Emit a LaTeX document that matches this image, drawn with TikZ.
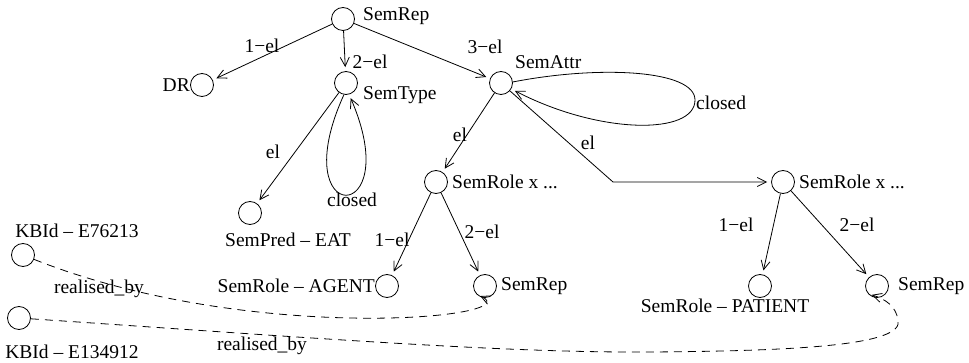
\documentclass[tikz,border=0pt]{standalone}
\usepackage{fontspec}
\setmainfont{Liberation Serif}
\usetikzlibrary{arrows.meta}
\begin{document}
\begin{tikzpicture}[x=1pt,y=-1pt,
  st/.style={circle,draw,minimum size=23pt,inner sep=0pt,line width=0.8pt},
  lbl/.style={font=\fontsize{19.5}{22}\selectfont,inner sep=0pt},
  arr/.style={line width=0.8pt,-{Straight Barb[length=9pt,width=9pt]},shorten >=4pt},
  dsh/.style={arr,dash pattern=on 8pt off 6pt}]
\useasboundingbox (0,0) rectangle (969,363);
% states
\node[st] (srep) at (343,19) {};
\node[st] (dr) at (202,85) {};
\node[st] (stype) at (346,83) {};
\node[st] (sattr) at (501,83) {};
\node[st] (spred) at (250,213) {};
\node[st] (srole) at (436,182) {};
\node[st] (srole2) at (783,182) {};
\node[st] (agent) at (387,286) {};
\node[st] (srep2) at (485,286) {};
\node[st] (patient) at (760,286) {};
\node[st] (srep3) at (877,286) {};
\node[st] (kb1) at (23,255) {};
\node[st] (kb2) at (19,318) {};
% state labels
\node[lbl,anchor=west] (tsrep) at (363,16) {SemRep};
\node[lbl,anchor=east] (tdr) at (190,85) {DR};
\node[lbl,anchor=west] (tstype) at (363,95) {SemType};
\node[lbl,anchor=west] (tsattr) at (515,62) {SemAttr};
\node[lbl] (tspred) at (288,240) {SemPred – EAT};
\node[lbl,anchor=west] (tsrole) at (452,182) {SemRole x ...};
\node[lbl,anchor=west] (tsrole2) at (799,182) {SemRole x ...};
\node[lbl,anchor=east] (tagent) at (375,286) {SemRole – AGENT};
\node[lbl,anchor=west] (tsrep2) at (501,286) {SemRep};
\node[lbl] (tpatient) at (725,306) {SemRole – PATIENT};
\node[lbl,anchor=west] (tsrep3) at (898,286) {SemRep};
\node[lbl] (tkb1) at (77,231) {KBId – E76213};
\node[lbl] (tkb2) at (72,352) {KBId – E134912};
% edge labels
\node[lbl] (e1) at (262,46) {1−el};
\node[lbl] (e2) at (370,62) {2−el};
\node[lbl] (e3) at (485,47) {3−el};
\node[lbl] (e4) at (273,152) {el};
\node[lbl] (e5) at (352,200) {closed};
\node[lbl] (e6) at (460,135) {el};
\node[lbl,anchor=west] (e7) at (696,103) {closed};
\node[lbl] (e8) at (588,143) {el};
\node[lbl] (e9) at (392,240) {1−el};
\node[lbl] (e10) at (482,232) {2−el};
\node[lbl] (e11) at (736,225) {1−el};
\node[lbl] (e12) at (857,225) {2−el};
\node[lbl] (e13) at (99,289) {realised\_by};
\node[lbl] (e14) at (262,346) {realised\_by};
% edges
\draw[arr] (srep) -- (dr);
\draw[arr] (srep) -- (stype);
\draw[arr] (srep) -- (sattr);
\draw[arr] (stype) -- (spred);
\draw[arr] (stype.-100) .. controls (283,228) and (407,228) .. (stype.-75);
\coordinate (loopR) at (695,100);
\draw[arr] (sattr.5) .. controls (600,65) and (695,70) .. (loopR) .. controls (695,135) and (600,135) .. (sattr.-30);
\draw[arr] (sattr) -- (srole);
\coordinate (bend) at (613,182);
\draw[arr] (sattr) -- (bend) -- (srole2);
\draw[arr] (srole) -- (agent);
\draw[arr] (srole) -- (srep2);
\draw[arr] (srole2) -- (patient);
\draw[arr] (srole2) -- (srep3);
% realised_by
\draw[dsh] (kb1) .. controls (250,345) and (530,318) .. (srep2.-135);
\coordinate (m1) at (650,352);
\coordinate (m2) at (898,320);
\draw[dsh] (kb2) .. controls (300,337) and (500,353) .. (m1) .. controls (800,351) and (905,345) .. (m2) .. controls (896,306) and (885,299) .. (srep3.-140);
\end{tikzpicture}
\end{document}
